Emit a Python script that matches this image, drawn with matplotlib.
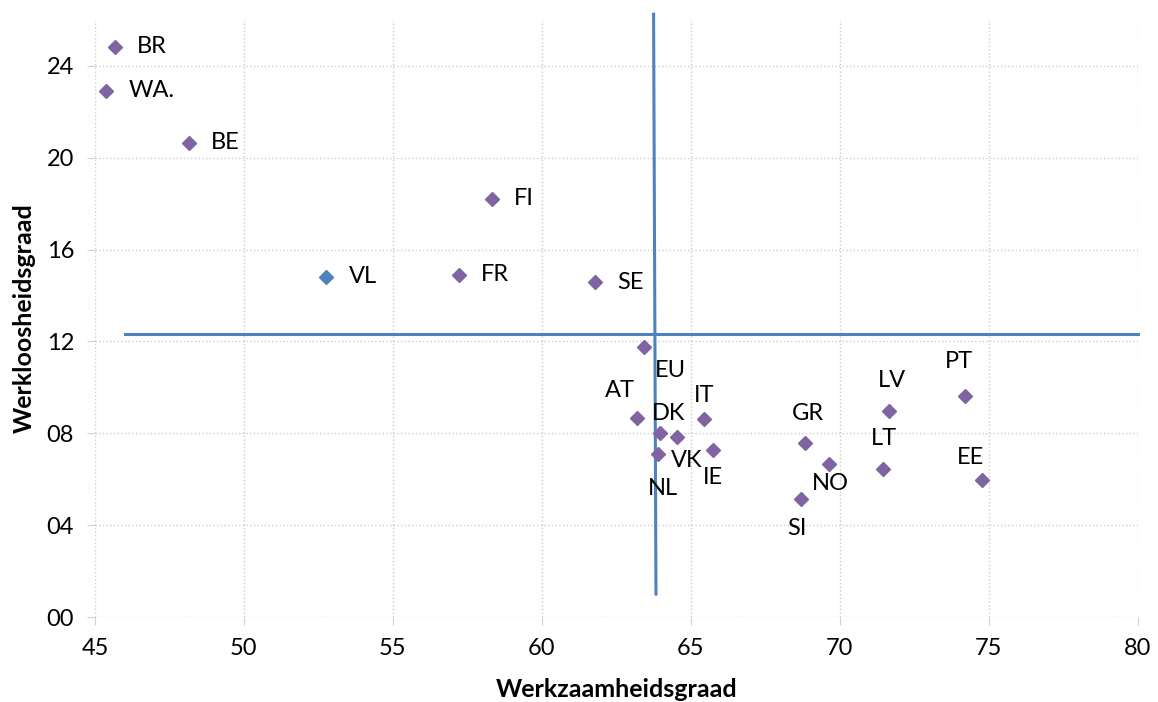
import numpy as np
import matplotlib.pyplot as plt

plt.rcParams["font.family"] = ["Lato", "DejaVu Sans"]

# Data
landen = ["BR", "WA.", "BE", "FI", "VL", "FR", "SE", "EU", "AT", "DK", "VK",
          "NL", "IT", "IE", "GR", "NO", "SI", "LT", "LV", "PT", "EE"]
werkzaamheid = [45.67, 45.37, 48.16, 58.32, 52.77, 57.21, 61.78, 63.43, 63.19, 63.96, 64.53,
                63.89, 65.44, 65.74, 68.83, 69.63, 68.69, 71.44, 71.64, 74.19, 74.77]
werkloosheid = [24.84, 22.91, 20.66, 18.21, 14.82, 14.90, 14.59, 11.77, 8.67, 8.01, 7.84,
                7.10, 8.62, 7.27, 7.58, 6.66, 5.14, 6.45, 8.97, 9.63, 5.97]

# reference lines (averages)
vline_x = [63.75, 63.83]
vline_y = [26.25, 1.0]
hline_x = [46.0, 80.0]
hline_y = [12.33, 12.33]

x_ticks = [45, 50, 55, 60, 65, 70, 75, 80]
y_ticks = [0, 4, 8, 12, 16, 20, 24]

# label offsets in points (dx, dy), ha
offsets = {
    "BR": (16, 0, "left"), "WA.": (16, 0, "left"), "BE": (16, 0, "left"),
    "FI": (16, 0, "left"), "VL": (16, 0, "left"), "FR": (16, 0, "left"),
    "SE": (16, 0, "left"), "EU": (19, -17, "center"), "AT": (-12, 20, "center"),
    "DK": (6, 14, "center"), "VK": (7, -17, "center"), "NL": (4, -25, "center"),
    "IT": (0, 17, "center"), "IE": (0, -20, "center"), "GR": (2, 21, "center"),
    "NO": (1, -14, "center"), "SI": (-3, -21, "center"), "LT": (1, 22, "center"),
    "LV": (2, 22, "center"), "PT": (-4, 25, "center"), "EE": (-8, 16, "center"),
}

purple = "#8064A2"
blue = "#4F81BD"

fig = plt.figure(figsize=(11.58, 7.02), dpi=100)
ax = fig.add_axes([0.082, 0.121, 0.9005, 0.8505])

ax.plot(vline_x, vline_y, color=blue, linewidth=2.2, clip_on=False, zorder=2)
ax.plot(hline_x, hline_y, color=blue, linewidth=2.2, clip_on=False, zorder=2)

for naam, x, y in zip(landen, werkzaamheid, werkloosheid):
    kleur = blue if naam == "VL" else purple
    ax.plot(x, y, marker="D", markersize=7, color=kleur, linestyle="none", zorder=3)
    dx, dy, ha = offsets[naam]
    ax.annotate(naam, (x, y), xytext=(dx, dy), textcoords="offset points",
                ha=ha, va="center", fontsize=17, color="black")

ax.set_xlim(45, 80)
ax.set_ylim(0, 26)
ax.set_xticks(x_ticks)
ax.set_yticks(y_ticks)
ax.set_yticklabels([f"{v:02d}" for v in y_ticks])
ax.grid(True, linestyle=":", color="#cccccc", linewidth=1.0, zorder=0)
ax.set_axisbelow(True)
for s in ax.spines.values():
    s.set_visible(False)
ax.tick_params(axis="both", length=6, width=0.8, color="#d0d0d0", labelsize=17, pad=9)

ax.set_xlabel("Werkzaamheidsgraad", fontsize=18, fontweight="bold", labelpad=14)
ax.set_ylabel("Werkloosheidsgraad", fontsize=18, fontweight="bold", labelpad=8)

plt.savefig("out.png", dpi=100)
